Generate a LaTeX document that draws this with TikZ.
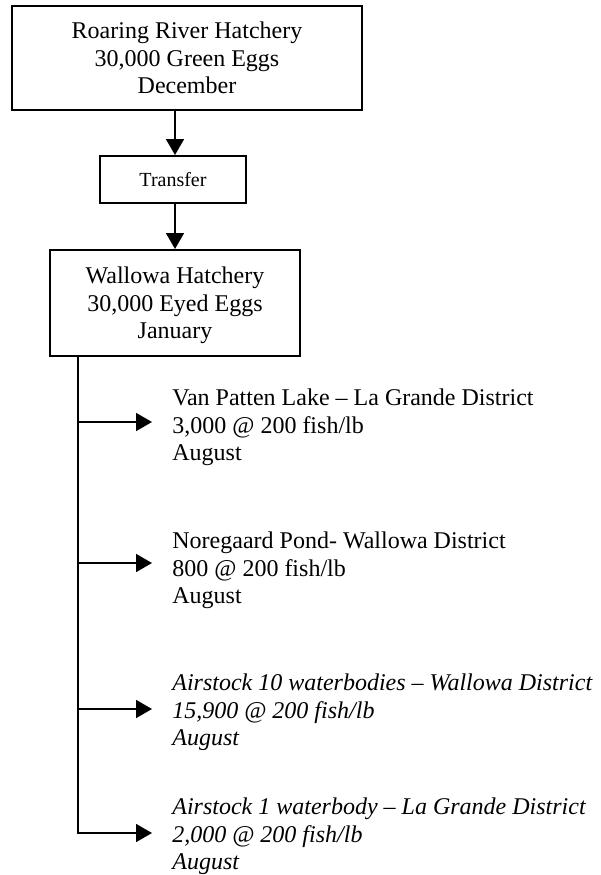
\documentclass[tikz,border=0pt]{standalone}
\usepackage{fontspec}
\setmainfont{Liberation Serif}
\usetikzlibrary{arrows.meta}
\begin{document}
\begin{tikzpicture}[x=0.5pt,y=-0.5pt,
  box/.style={draw, line width=1pt, align=center, inner sep=0pt, text depth=0pt,
    font=\fontsize{12}{13.8}\selectfont},
  smallbox/.style={box, font=\fontsize{10}{12}\selectfont},
  lbl/.style={anchor=north west, inner sep=0pt, align=left,
    font=\fontsize{12}{13.8}\selectfont},
  conn/.style={line width=0.85pt},
  arr/.style={conn, -{Triangle[length=8pt,width=9pt]}}]
\useasboundingbox (0,0) rectangle (601,875);
% boxes
\node[box, minimum width=175pt, minimum height=52pt] (rr) at (187,58)
  {Roaring River Hatchery\\30,000 Green Eggs\\December};
\node[smallbox, minimum width=73pt, minimum height=23.5pt] (tr) at (173,179.5) {Transfer};
\node[box, minimum width=125pt, minimum height=53pt] (wal) at (175,303)
  {Wallowa Hatchery\\30,000 Eyed Eggs\\January};
% release labels (first baselines at 405, 548, 690, 814)
\node[lbl] (t1) at (172,385.68) {\strut Van Patten Lake – La Grande District\\3,000 @ 200 fish/lb\\August};
\node[lbl] (t2) at (172,528.68) {\strut Noregaard Pond- Wallowa District\\800 @ 200 fish/lb\\August};
\node[lbl, font=\fontsize{12}{13.8}\selectfont\itshape] (t3) at (172,670.68) {\strut Airstock 10 waterbodies – Wallowa District\\15,900 @ 200 fish/lb\\August};
\node[lbl, font=\fontsize{12}{13.8}\selectfont\itshape] (t4) at (172,794.68) {\strut Airstock 1 waterbody – La Grande District\\2,000 @ 200 fish/lb\\August};
% junction points on the trunk line
\coordinate (j1) at (78,422);
\coordinate (j2) at (78,563);
\coordinate (j3) at (78,709);
\coordinate (j4) at (78,833);
% connectors
\draw[arr] (rr.south -| wal.north) -- (tr.north -| wal.north);
\draw[arr] (tr.south -| wal.north) -- (wal.north);
\draw[conn] (wal.south -| j1) -- (j4);
\draw[arr] (j1) -- ([xshift=-10pt]t1.west |- j1);
\draw[arr] (j2) -- ([xshift=-10pt]t2.west |- j2);
\draw[arr] (j3) -- ([xshift=-10pt]t3.west |- j3);
\draw[arr] ([xshift=-0.425pt]j4) -- ([xshift=-10pt]t4.west |- j4);
\end{tikzpicture}
\end{document}
